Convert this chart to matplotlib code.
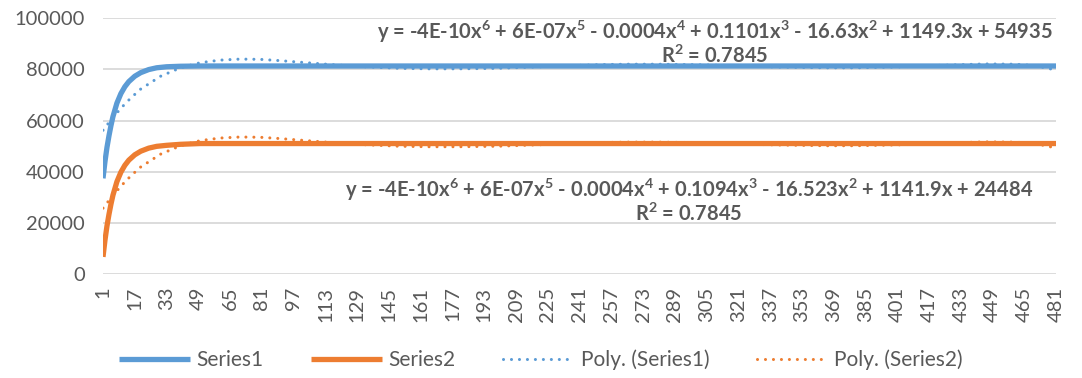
import numpy as np
import matplotlib
matplotlib.use("Agg")
import matplotlib.pyplot as plt

plt.rcParams['font.family'] = ['Lato', 'DejaVu Sans']
plt.rcParams['mathtext.default'] = 'regular'

# readings (x = category index 1..481)
x_s = [1, 2, 3, 4, 5, 6, 8, 10, 12, 14, 17, 20, 24, 28, 33, 40, 50, 481]
series1 = [37400, 44000, 49500, 54000, 58000, 61500, 66800, 70500, 73200, 75200,
           77300, 78700, 79900, 80600, 81000, 81200, 81300, 81300]
series2 = [6700, 13300, 18800, 23300, 27300, 30800, 36100, 39800, 42500, 44500,
           46600, 48000, 49200, 49900, 50300, 50700, 51000, 51000]

# polynomial trendlines, read point by point
x_t = [1, 5, 10, 15, 20, 30, 40, 50, 60, 70, 80, 90, 100, 115, 130, 150, 165, 180,
       200, 225, 250, 265, 280, 300, 320, 340, 365, 380, 400, 420, 445, 460, 470, 481]
poly1 = [56200, 60200, 64800, 68800, 72300, 77300, 80600, 82600, 83600, 84000, 83900,
         83400, 82800, 81900, 81100, 80400, 80200, 80200, 80400, 81100, 81800, 82000,
         82000, 81800, 81400, 80900, 80600, 80600, 80900, 81500, 82100, 82000, 81500, 79700]
poly2 = [v - 30450 for v in poly1]

eq1 = "y = -4E-10x$^6$ + 6E-07x$^5$ - 0.0004x$^4$ + 0.1101x$^3$ - 16.63x$^2$ + 1149.3x + 54935"
eq2 = "y = -4E-10x$^6$ + 6E-07x$^5$ - 0.0004x$^4$ + 0.1094x$^3$ - 16.523x$^2$ + 1141.9x + 24484"
r2 = "R$^2$ = 0.7845"

blue = '#5B9BD5'
orange = '#ED7D31'
grey = '#595959'

fig = plt.figure(figsize=(10.82, 3.78), dpi=100)
ax = fig.add_axes([0.0952, 0.275, 0.881, 0.677])

dot = (0, (0.01, 2.6))
ax.plot(x_t, poly1, color=blue, lw=2.2, linestyle=dot, dash_capstyle='round', zorder=2,
        label='Poly. (Series1)')
ax.plot(x_t, poly2, color=orange, lw=2.2, linestyle=dot, dash_capstyle='round', zorder=2,
        label='Poly. (Series2)')
ax.plot(x_s, series1, color=blue, lw=3.8, solid_capstyle='butt', zorder=3, label='Series1')
ax.plot(x_s, series2, color=orange, lw=3.8, solid_capstyle='butt', zorder=3, label='Series2')

ax.set_xlim(1, 481)
ax.set_ylim(0, 100000)
ax.set_yticks(range(0, 100001, 20000))
ax.set_xticks(range(1, 482, 16))
ax.tick_params(axis='x', labelrotation=90, length=0, pad=9, labelsize=14.5, labelcolor=grey)
ax.tick_params(axis='y', length=0, pad=13, labelsize=14.5, labelcolor=grey)
ax.grid(axis='y', color='#D9D9D9', lw=1.3)
ax.set_axisbelow(True)
for s in ax.spines.values():
    s.set_visible(False)

fs = 14.5
ax.text(309, 94500, eq1, ha='center', va='center', fontsize=fs, fontweight='bold', color=grey)
ax.text(309, 85200, r2, ha='center', va='center', fontsize=fs, fontweight='bold', color=grey)
ax.text(296, 32800, eq2, ha='center', va='center', fontsize=fs, fontweight='bold', color=grey)
ax.text(296, 23400, r2, ha='center', va='center', fontsize=fs, fontweight='bold', color=grey)

handles, labels = ax.get_legend_handles_labels()
order = [2, 3, 0, 1]
fig.legend([handles[i] for i in order], [labels[i] for i in order], loc='lower center',
           bbox_to_anchor=(0.5, -0.028), ncol=4, frameon=False, fontsize=15,
           handlelength=3.4, handletextpad=0.3, columnspacing=2.3, labelcolor=grey)

fig.savefig('out.png', dpi=100)
